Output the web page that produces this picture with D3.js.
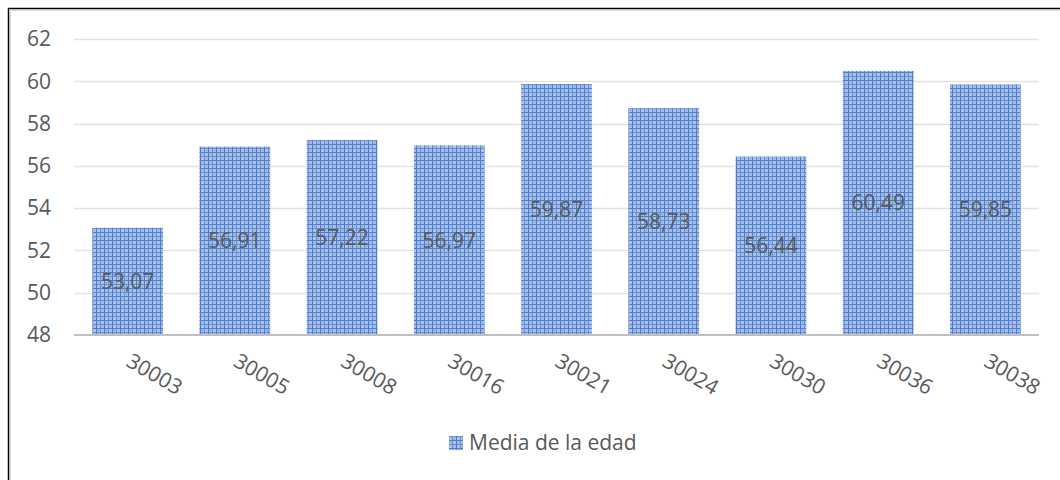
<!DOCTYPE html>
<html><head><meta charset="utf-8">
<script src="https://cdn.jsdelivr.net/npm/d3@7"></script>
<style>
html,body{margin:0;padding:0;background:#fff;overflow:hidden;}
text{font-family:"Open Sans",sans-serif;fill:#595959;}
</style></head>
<body><svg id="c" width="1060" height="480"></svg>
<script>
const categories = ["30003","30005","30008","30016","30021","30024","30030","30036","30038"];
const values = [53.07,56.91,57.22,56.97,59.87,58.73,56.44,60.49,59.85];
const valueLabels = ["53,07","56,91","57,22","56,97","59,87","58,73","56,44","60,49","59,85"];
const yTicks = [48,50,52,54,56,58,60,62];
const seriesName = "Media de la edad";

const svg = d3.select("#c");
const defs = svg.append("defs");
const pat = defs.append("pattern").attr("id","plaid").attr("patternUnits","userSpaceOnUse")
  .attr("width",8).attr("height",8);
pat.append("rect").attr("width",8).attr("height",8).attr("fill","#a6bfe9");
pat.append("rect").attr("x",0).attr("y",0).attr("width",8).attr("height",1).attr("fill","#4c7bcb");
pat.append("rect").attr("x",0).attr("y",4).attr("width",8).attr("height",1).attr("fill","#6690d6");
pat.append("rect").attr("x",0).attr("y",0).attr("width",1).attr("height",8).attr("fill","#4c7bcb");
pat.append("rect").attr("x",4).attr("y",0).attr("width",1).attr("height",8).attr("fill","#6690d6");
pat.append("rect").attr("x",2).attr("y",2).attr("width",1).attr("height",1).attr("fill","#7299db");
pat.append("rect").attr("x",6).attr("y",6).attr("width",1).attr("height",1).attr("fill","#7299db");
pat.append("rect").attr("x",2).attr("y",6).attr("width",1).attr("height",1).attr("fill","#c6d6f1");
pat.append("rect").attr("x",6).attr("y",2).attr("width",1).attr("height",1).attr("fill","#c6d6f1");

// outer border (only top/left visible)
svg.append("rect").attr("x",8.5).attr("y",8.5).attr("width",1100).attr("height",600)
  .attr("fill","none").attr("stroke","#000").attr("stroke-width",1.5);
svg.append("line").attr("x1",10.5).attr("x2",10.5).attr("y1",10).attr("y2",480).attr("stroke","#d9d9d9");
svg.append("line").attr("x1",10).attr("x2",1060).attr("y1",10.5).attr("y2",10.5).attr("stroke","#d9d9d9");

const x = d3.scaleBand().domain(categories).range([74,1039]).paddingInner(0.34).paddingOuter(0.17);
const y = d3.scaleLinear().domain([48,62]).range([335,39]);

// gridlines
svg.append("g").selectAll("line").data(yTicks.filter(t=>t>48)).join("line")
  .attr("x1",74).attr("x2",1039).attr("y1",d=>Math.round(y(d))+0.5).attr("y2",d=>Math.round(y(d))+0.5)
  .attr("stroke","#e3e3e3").attr("stroke-width",1.5);

// y axis labels
const yAxis = d3.axisLeft(y).tickValues(yTicks).tickSize(0).tickPadding(0);
const gy = svg.append("g").attr("transform","translate(51,0)").call(yAxis);
gy.select(".domain").remove();
gy.selectAll("text").attr("font-size",21).attr("fill","#595959").style("font-family","'Open Sans',sans-serif");

// bars
svg.append("g").selectAll("rect").data(values).join("rect")
  .attr("x",(d,i)=>x(categories[i])).attr("width",x.bandwidth())
  .attr("y",d=>y(d)).attr("height",d=>y(48)-y(d)).attr("fill","url(#plaid)");

// baseline
svg.append("line").attr("x1",74).attr("x2",1039).attr("y1",335).attr("y2",335)
  .attr("stroke","#bfbfbf").attr("stroke-width",2);

// value labels
svg.append("g").selectAll("text").data(values).join("text")
  .attr("x",(d,i)=>x(categories[i])+x.bandwidth()/2)
  .attr("y",d=>(y(d)+y(48))/2).attr("dy","0.35em")
  .attr("text-anchor","middle").attr("font-size",21).attr("fill","#404040")
  .text((d,i)=>valueLabels[i]);

// x axis labels
const xAxis = d3.axisBottom(x).tickSize(0).tickPadding(0);
const gx = svg.append("g").attr("transform","translate(0,350)").call(xAxis);
gx.select(".domain").remove();
gx.selectAll("text").attr("font-size",21).attr("fill","#595959").style("font-family","'Open Sans',sans-serif")
  .attr("text-anchor","start").attr("dy","0.35em").attr("y",0).attr("x",0)
  .attr("transform","translate(1,9) rotate(30)");

// legend
const lg = svg.append("g");
lg.append("rect").attr("x",449).attr("y",436).attr("width",14).attr("height",14).attr("fill","url(#plaid)");
lg.append("text").attr("x",469).attr("y",443).attr("dy","0.35em").attr("font-size",21).attr("fill","#595959").text(seriesName);
</script></body></html>
